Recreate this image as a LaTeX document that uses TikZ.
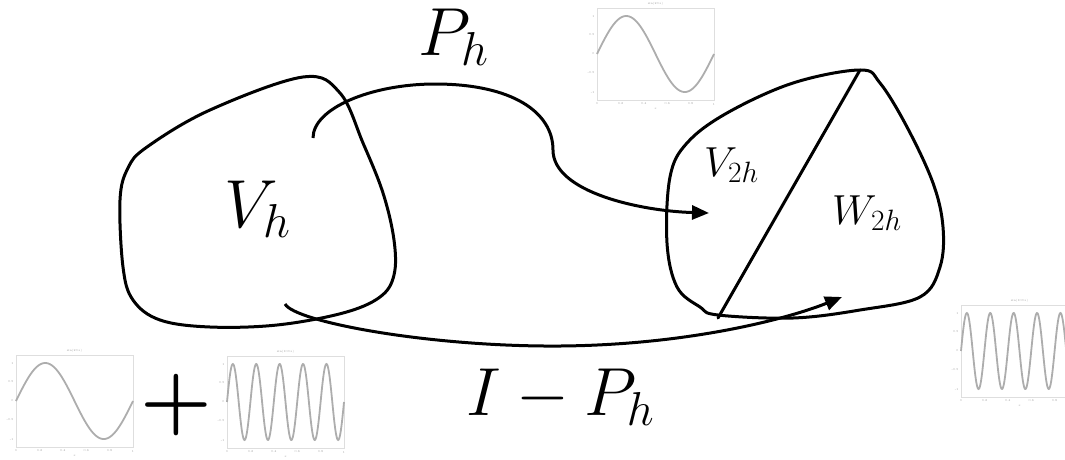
\RequirePackage{fix-cm}
\documentclass[tikz,border=0pt]{standalone}
\usetikzlibrary{arrows.meta}
\tikzset{
  blob/.style={line width=3pt, line join=round, line cap=round},
  arr/.style={line width=3pt, -{Triangle[length=17pt,width=14pt]}},
  biglab/.style={inner sep=0pt, anchor=base west, font=\fontsize{68}{76}\selectfont},
  smalllab/.style={inner sep=0pt, anchor=base west, font=\fontsize{42}{48}\selectfont},
  ticklab/.style={inner sep=0.4pt, text=black!40, font=\fontsize{3}{3}\selectfont},
  pics/sinwave/.style n args={3}{code={
    \draw[black!13, line width=0.5pt] (0,0) rectangle (117,92);
    \foreach \t/\lab [count=\i] in {#3}
      \node[ticklab] (xt\i) at (\t,96) {\lab};
    \foreach \t/\lab [count=\i] in {8/1, 27/0.5, 46/0, 65/-0.5, 84/-1}
      \node[ticklab, anchor=east] (yt\i) at (-2,\t) {\lab};
    \node[ticklab] (title) at (58.5,-4) {#2};
    \node[ticklab] (xlab) at (58.5,101) {$x$};
    \draw[black!32, line width=1.8pt, domain=0:117, samples=220] plot (\x, {46-38*sin(#1*3.07692*\x)});
  }}
}
\begin{document}
\begin{tikzpicture}[x=1pt, y=-1pt]
\useasboundingbox (0,0) rectangle (1065,459);
\clip (0,0) rectangle (1065,459);
\pic (plota) at (16,355) {sinwave={1}{$\sin(2\pi x)$}{0/0, 23.4/0.2, 46.8/0.4, 70.2/0.6, 93.6/0.8, 117/1}};
\pic (plotb) at (227,356) {sinwave={5}{$\sin(10\pi x)$}{0/0, 23.4/0.2, 46.8/0.4, 70.2/0.6, 93.6/0.8, 117/1}};
\pic (plotc) at (597,8) {sinwave={1}{$\sin(2\pi x)$}{0/0, 23.4/0.2, 46.8/0.4, 70.2/0.6, 93.6/0.8, 117/1}};
\pic (plotd) at (961,305) {sinwave={5}{$\sin(10\pi x)$}{0/0, 23.4/0.2, 46.8/0.4, 70.2/0.6, 93.6/0.8}};
\draw[blob] plot[smooth cycle, tension=0.6] coordinates {(303,77) (340,93) (363,143) (383,193) (394,240) (394,275) (380,297) (343,313) (277,325) (210,327) (160,320) (133,300) (123,267) (120,200) (128,168) (147,147) (210,110)};
\draw[blob] plot[smooth cycle, tension=0.6] coordinates {(860,70) (880,83) (907,127) (933,183) (943,227) (940,267) (920,297) (860,310) (793,318) (718,315) (700,307) (677,287) (667,243) (670,177) (687,143) (727,113) (793,83)};
\coordinate (top) at (860,70);
\coordinate (foot) at (718,318);
\draw[blob] (top) -- (foot);
\node[biglab] (vh) at (224,227) {$V_h$};
\node[biglab] (ph) at (418,55) {$P_h$};
\node[biglab] (iph) at (466,415) {$I-P_h$};
\node[smalllab] (v2h) at (704,176) {$V_{2h}$};
\node[smalllab] (w2h) at (832,224) {$W_{2h}$};
\node[inner sep=0pt, font=\fontsize{82}{90}\selectfont\bfseries] (plussign) at (176,405) {+};
\coordinate (phstart) at (313,138);
\coordinate (phend) at (709,213);
\coordinate (iphstart) at (285,304);
\coordinate (iphend) at (842,297);
\draw[arr] (phstart) .. controls (313,108) and (372,84) .. (435,84) .. controls (512,84) and (553,112) .. (553,150) .. controls (553,192) and (640,211) .. (phend);
\draw[arr] (iphstart) .. controls (295,322) and (430,347) .. (560,346) .. controls (690,345) and (790,318) .. (iphend);
\end{tikzpicture}
\end{document}
